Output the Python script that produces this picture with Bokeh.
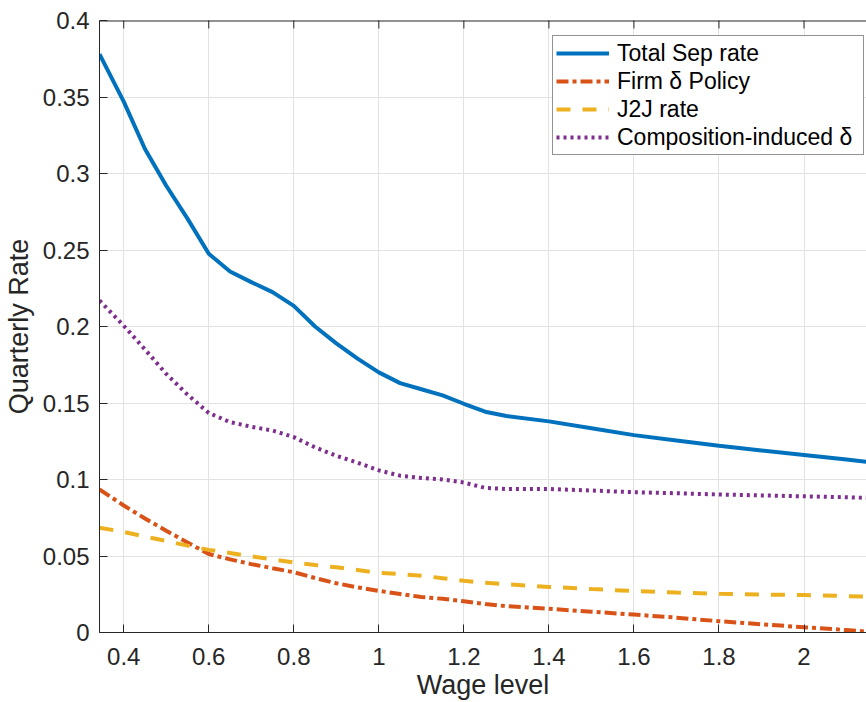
from bokeh.plotting import figure
from bokeh.models import Range1d, FixedTicker, Legend, LegendItem, Span
from bokeh.embed import file_html
from bokeh.resources import INLINE

# Wage grid and quarterly rates for each series
wage = [0.343, 0.40, 0.45, 0.50, 0.55, 0.60, 0.65, 0.70, 0.75, 0.80, 0.85, 0.90,
        0.95, 1.00, 1.05, 1.10, 1.15, 1.20, 1.25, 1.30, 1.40, 1.50, 1.60, 1.70,
        1.80, 1.90, 2.00, 2.10, 2.147]
total_sep = [0.378, 0.347, 0.316, 0.292, 0.2705, 0.2475, 0.236, 0.229, 0.2225, 0.2135,
             0.200, 0.189, 0.179, 0.170, 0.163, 0.159, 0.155, 0.1495, 0.1443, 0.1415,
             0.138, 0.1335, 0.129, 0.1255, 0.122, 0.119, 0.116, 0.113, 0.1115]
firm_delta = [0.0935, 0.083, 0.0745, 0.0665, 0.0588, 0.0513, 0.0478, 0.0447, 0.042, 0.0394,
              0.0356, 0.0322, 0.0295, 0.0272, 0.0252, 0.0232, 0.022, 0.0204, 0.0186, 0.0172,
              0.0155, 0.0136, 0.0117, 0.0097, 0.0074, 0.0054, 0.0034, 0.0016, 0.0006]
j2j = [0.0685, 0.0657, 0.0627, 0.0598, 0.0568, 0.054, 0.052, 0.0498, 0.0478, 0.0458,
       0.0441, 0.0426, 0.0408, 0.039, 0.0382, 0.0371, 0.0355, 0.0338, 0.0325, 0.0315,
       0.0298, 0.0284, 0.0271, 0.0261, 0.0253, 0.0248, 0.0245, 0.0238, 0.0235]
composition = [0.217, 0.2005, 0.185, 0.169, 0.1555, 0.1435, 0.1375, 0.1345, 0.132, 0.1277,
               0.121, 0.1155, 0.111, 0.106, 0.1025, 0.101, 0.100, 0.098, 0.0945, 0.0938,
               0.0938, 0.0928, 0.0917, 0.091, 0.0902, 0.0896, 0.089, 0.0884, 0.088]

series_names = ["Total Sep rate", "Firm δ Policy", "J2J rate", "Composition-induced δ"]

x_ticks = [0.4, 0.6, 0.8, 1.0, 1.2, 1.4, 1.6, 1.8, 2.0]
x_tick_labels = ["0.4", "0.6", "0.8", "1", "1.2", "1.4", "1.6", "1.8", "2"]
y_ticks = [0, 0.05, 0.1, 0.15, 0.2, 0.25, 0.3, 0.35, 0.4]
y_tick_labels = ["0", "0.05", "0.1", "0.15", "0.2", "0.25", "0.3", "0.35", "0.4"]
y_top = y_ticks[-1]

FONT = "Liberation Sans"
INK = "#262626"
GRID = "#e2e2e2"
LW = 4

p = figure(width=866, height=702, output_backend="svg", toolbar_location=None,
           x_range=Range1d(wage[0], wage[-1]), y_range=Range1d(0, y_top),
           min_border_left=99, min_border_right=0, min_border_top=20,
           min_border_bottom=70)
p.outline_line_color = None
p.background_fill_color = "white"
p.border_fill_color = "white"


def style_axis(ax, ticks, labels):
    ax.ticker = FixedTicker(ticks=ticks)
    ax.major_tick_in = 8
    ax.major_tick_out = 0
    ax.minor_tick_line_color = None
    ax.axis_line_color = INK
    ax.major_tick_line_color = INK
    ax.major_label_text_font = FONT
    ax.major_label_text_font_size = "24px"
    ax.major_label_text_color = INK
    ax.major_label_overrides = dict(zip(ticks, labels))
    ax.axis_label_text_font = FONT
    ax.axis_label_text_font_size = "27px"
    ax.axis_label_text_font_style = "normal"
    ax.axis_label_text_color = INK


xa = p.xaxis[0]
style_axis(xa, x_ticks, x_tick_labels)
xa.major_label_standoff = 15
xa.axis_label = "Wage level"
xa.axis_label_standoff = 2

ya = p.yaxis[0]
style_axis(ya, y_ticks, y_tick_labels)
ya.major_label_standoff = 10
ya.axis_label = "Quarterly Rate"
ya.axis_label_standoff = 6

p.xgrid.ticker = FixedTicker(ticks=x_ticks)
p.ygrid.ticker = FixedTicker(ticks=y_ticks)
p.xgrid.grid_line_color = GRID
p.ygrid.grid_line_color = GRID

# top edge of the box with inward tick marks
p.add_layout(Span(location=y_top, dimension="width", line_color=INK, line_width=2))
p.scatter(x_ticks, [y_top] * len(x_ticks), marker="dash", angle=1.5708, size=16,
          line_color=INK, line_width=1)

r_total = p.line(wage, total_sep, line_color="#0072BD", line_width=LW)
r_firm = p.line(wage, firm_delta, line_color="#D95319", line_width=LW,
                line_dash="12 4 4 4")
r_j2j = p.line(wage, j2j, line_color="#EDB120", line_width=LW, line_dash="14 12")
r_comp = p.line(wage, composition, line_color="#7E2F8E", line_width=LW,
                line_dash="3 4")

legend = Legend(
    items=[LegendItem(label=n, renderers=[r]) for n, r in
           zip(series_names, [r_total, r_firm, r_j2j, r_comp])],
    location=(453, 477),
    label_text_font=FONT, label_text_font_size="23px", label_text_color="black",
    glyph_width=53, glyph_height=28, label_height=28, label_width=243,
    label_standoff=8, spacing=0, padding=3, margin=0,
    border_line_color=INK, border_line_width=1,
    background_fill_color="white", background_fill_alpha=1.0,
)
p.add_layout(legend)

open("out.html", "w").write(file_html(p, INLINE))
